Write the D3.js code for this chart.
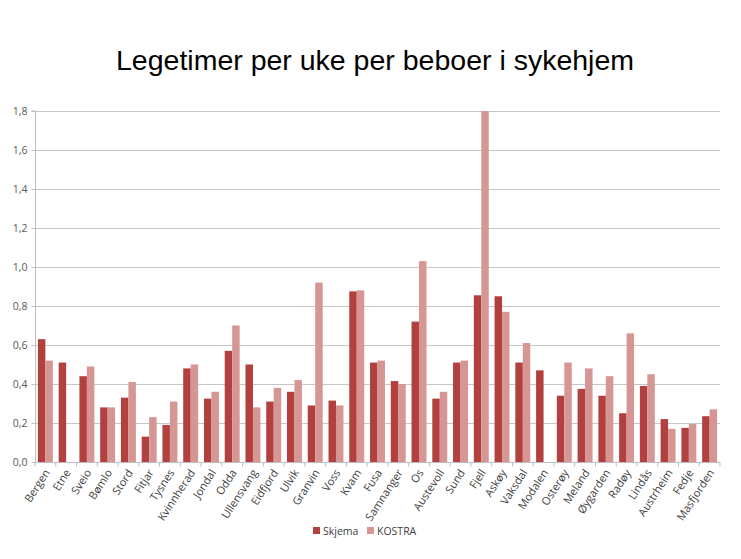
<!DOCTYPE html>
<html><head><meta charset="utf-8">
<script src="https://cdn.jsdelivr.net/npm/d3@7"></script>
<style>body{margin:0;background:#fff;} svg{display:block;}</style>
</head><body>
<svg id="c" width="741" height="559"></svg>
<script>
const categories = ["Bergen","Etne","Sveio","Bømlo","Stord","Fitjar","Tysnes","Kvinnherad","Jondal","Odda","Ullensvang","Eidfjord","Ulvik","Granvin","Voss","Kvam","Fusa","Samnanger","Os","Austevoll","Sund","Fjell","Askøy","Vaksdal","Modalen","Osterøy","Meland","Øygarden","Radøy","Lindås","Austrheim","Fedje","Masfjorden"];
const skjema = [0.63,0.51,0.44,0.28,0.33,0.13,0.19,0.48,0.325,0.57,0.50,0.31,0.36,0.29,0.315,0.875,0.51,0.415,0.72,0.325,0.51,0.855,0.85,0.51,0.47,0.34,0.375,0.34,0.25,0.39,0.22,0.175,0.235];
const kostra = [0.52,null,0.49,0.28,0.41,0.23,0.31,0.50,0.36,0.70,0.28,0.38,0.42,0.92,0.29,0.88,0.52,0.40,1.03,0.36,0.52,1.8,0.77,0.61,null,0.51,0.48,0.44,0.66,0.45,0.17,0.195,0.27];
const seriesNames = ["Skjema","KOSTRA"];
const yTicks = [0,0.2,0.4,0.6,0.8,1.0,1.2,1.4,1.6,1.8];
const title = "Legetimer per uke per beboer i sykehjem";
const colors = ["#B2403E","#D59694"];

const svg = d3.select("#c");
const m = {left:35, right:720, top:111, bottom:462};
const x = d3.scaleBand().domain(categories).range([m.left,m.right]).paddingInner(0.28).paddingOuter(0.14);
const xs = d3.scaleBand().domain(seriesNames).range([0,x.bandwidth()]);
const y = d3.scaleLinear().domain([0,1.8]).range([m.bottom,m.top]);

svg.append("text").attr("x",375).attr("y",70).attr("text-anchor","middle")
  .style("font-family","'Liberation Sans',Arial,sans-serif").style("font-size","28.5px").attr("fill","#000").text(title);

// gridlines
svg.append("g").selectAll("line").data(yTicks.slice(1)).join("line")
  .attr("x1",m.left).attr("x2",m.right).attr("y1",d=>y(d)+0.5).attr("y2",d=>y(d)+0.5)
  .attr("stroke","#C6C6C6").attr("stroke-width",1);

// bars
const data = [];
categories.forEach((c,i)=>{
  if (skjema[i]!=null) data.push({c,s:"Skjema",v:skjema[i],col:colors[0]});
  if (kostra[i]!=null) data.push({c,s:"KOSTRA",v:kostra[i],col:colors[1]});
});
svg.append("g").selectAll("rect").data(data).join("rect")
  .attr("x",d=>x(d.c)+xs(d.s)).attr("width",xs.bandwidth())
  .attr("y",d=>y(d.v)).attr("height",d=>y(0)-y(d.v)).attr("fill",d=>d.col);

// y axis
const yAxis = d3.axisLeft(y).tickValues(yTicks).tickSize(4).tickFormat(d=>d3.format(".1f")(d).replace(".",","));
const gy = svg.append("g").attr("transform",`translate(${m.left+0.5},0)`).call(yAxis);
gy.select(".domain").attr("stroke","#BFBFBF").attr("d",`M-4,${m.top}H0V${m.bottom}`);
gy.selectAll(".tick line").attr("stroke","#BFBFBF");
gy.selectAll(".tick text").attr("fill","#595959").attr("x",-8)
  .style("font-family","'Open Sans','Liberation Sans',sans-serif").style("font-size","10.5px");

// x axis
const xAxis = d3.axisBottom(x).tickSize(0);
const gx = svg.append("g").attr("transform",`translate(0,${m.bottom+0.5})`).call(xAxis);
gx.select(".domain").attr("stroke","#BFBFBF").attr("d",`M${m.left},0H${m.right}`);
gx.selectAll(".sep").data(d3.range(categories.length+1)).join("line").attr("class","sep")
  .attr("x1",i=>m.left+i*x.step()).attr("x2",i=>m.left+i*x.step()).attr("y1",0).attr("y2",4)
  .attr("stroke","#BFBFBF");
gx.selectAll(".tick text").attr("fill","#404040")
  .style("font-family","'Open Sans','Liberation Sans',sans-serif").style("font-size","11px")
  .attr("text-anchor","end").attr("dy","0").attr("y",0)
  .attr("transform","translate(5,10) rotate(-57)");

// legend
const lg = svg.append("g").attr("transform","translate(313,527)");
seriesNames.forEach((s,i)=>{
  const off = i===0?0:54;
  lg.append("rect").attr("x",off).attr("y",0).attr("width",7).attr("height",7).attr("fill",colors[i]);
  lg.append("text").attr("x",off+10).attr("y",8).attr("fill","#404040")
    .style("font-family","'Open Sans','Liberation Sans',sans-serif").style("font-size","10.5px").text(s);
});
</script>
</body></html>
